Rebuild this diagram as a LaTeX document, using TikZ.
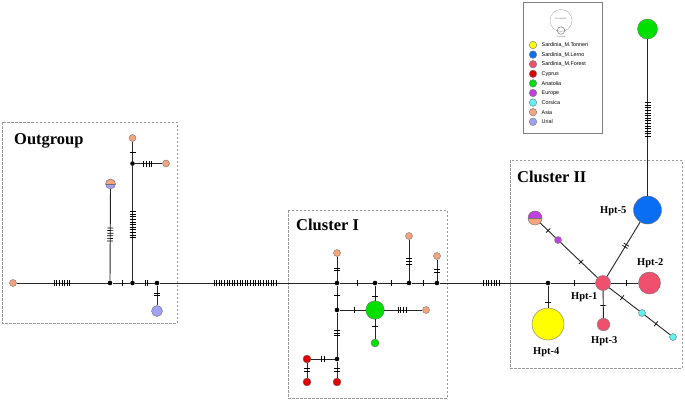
\documentclass[tikz,border=0pt]{standalone}
\usepackage{fontspec}
\setmainfont{Liberation Serif}
\newfontfamily\legfont{Liberation Sans}
\usetikzlibrary{calc}
\definecolor{ctonneri}{HTML}{FFFF00}
\definecolor{clerno}{HTML}{0A6EF5}
\definecolor{cforest}{HTML}{F0506E}
\definecolor{ccyprus}{HTML}{E00000}
\definecolor{canatolia}{HTML}{00E000}
\definecolor{ceurope}{HTML}{C040E0}
\definecolor{ccorsica}{HTML}{60F0F0}
\definecolor{casia}{HTML}{F5A47C}
\definecolor{curial}{HTML}{A0A0F5}
\tikzset{
 hap/.style={circle, draw=black!55, line width=0.4pt, inner sep=0pt, minimum size=#1},
 halfhap/.style 2 args={hap=#1, fill=#2},
 jn/.style={circle, fill=black, inner sep=0pt, minimum size=4.6pt},
 edge/.style={draw=black!85, line width=0.9pt},
 tickmark/.style={draw=black, line width=0.7pt},
 clbox/.style={draw=black!40, dash pattern=on 2.5pt off 1.5pt, line width=0.6pt},
 cllabel/.style={font=\bfseries\fontsize{16.5}{18}\selectfont, anchor=base west, inner sep=0pt},
 hptlabel/.style={font=\bfseries\fontsize{10.5}{12}\selectfont, anchor=base west, inner sep=0pt},
 legtext/.style={font=\legfont\fontsize{5.4}{6}\selectfont, anchor=west, inner sep=0pt},
 tinytext/.style={font=\legfont\fontsize{2.2}{2.5}\selectfont, inner sep=0pt, text=black!60},
}
\newcommand\tks[4]{%
 \foreach \ti in {1,...,#4}{%
  \coordinate (tkc) at ($(#1)!#3!(#2)$);
  \coordinate (tkp) at ($(tkc)!{(\ti-(#4+1)/2)*2.6pt}!(#2)$);
  \draw[tickmark] ($(tkp)!3pt!90:(#2)$) -- ($(tkp)!3pt!-90:(#2)$);
 }}
\begin{document}
\begin{tikzpicture}[x=1pt,y=-1pt]
\useasboundingbox (0,0) rectangle (685,400);
\fill[white] (0,0) rectangle (685,400);
% boxes
\draw[clbox] (2,122) rectangle (177,323);
\draw[clbox] (288,210) rectangle (447,398);
\draw[clbox] (510,160) rectangle (682,368);
\node[cllabel] (lout) at (14,144) {Outgroup};
\node[cllabel] (lc1) at (296,230) {Cluster I};
\node[cllabel] (lc2) at (517,182) {Cluster II};
% Outgroup
\node[hap=7pt, fill=casia] (o1) at (13,283) {};
\node[jn] (j1) at (110,283) {};
\node[hap=10pt, fill=curial, path picture={\fill[casia] (path picture bounding box.west) rectangle (path picture bounding box.north east); \draw[black!55,line width=0.4pt] (path picture bounding box.west) -- (path picture bounding box.east);}] (o2) at (110.5,184) {};
\node[jn] (j2) at (132.5,283) {};
\node[jn] (j3) at (132.5,163.5) {};
\node[hap=7pt, fill=casia] (o3) at (132.5,138) {};
\node[hap=7pt, fill=casia] (o4) at (166,163.5) {};
\node[jn] (j4) at (157,283) {};
\node[hap=11pt, fill=curial] (o5) at (157,311) {};
% Cluster I
\node[jn] (A) at (337,283) {};
\node[hap=7pt, fill=casia] (c1) at (337,253) {};
\node[jn] (B) at (375,283) {};
\node[hap=18.5pt, fill=canatolia] (g1) at (375,310) {};
\node[jn] (C) at (409,283) {};
\node[hap=7pt, fill=casia] (c2) at (409,236) {};
\node[jn] (D) at (437,283) {};
\node[hap=7pt, fill=casia] (c3) at (437,256) {};
\node[jn] (E) at (337,310) {};
\node[hap=7pt, fill=casia] (c4) at (426,310) {};
\node[hap=8pt, fill=canatolia] (g2) at (375,343) {};
\node[jn] (F) at (337,359) {};
\node[hap=8pt, fill=ccyprus] (r1) at (307,359) {};
\node[hap=8pt, fill=ccyprus] (r2) at (307,382) {};
\node[hap=8pt, fill=ccyprus] (r3) at (337,382) {};
% Cluster II
\node[jn] (G) at (548,283) {};
\node[hap=32pt, fill=ctonneri] (h4) at (548,324) {};
\node[hap=15pt, fill=cforest] (h1) at (603,283) {};
\node[hap=22pt, fill=cforest] (h2) at (649.5,283) {};
\node[hap=12.5pt, fill=cforest] (h3) at (603.5,324.5) {};
\node[hap=28pt, fill=clerno] (h5) at (647.5,210) {};
\node[hap=7pt, fill=ceurope] (e1) at (558,240) {};
\node[hap=14pt, fill=casia, path picture={\fill[ceurope] (path picture bounding box.west) rectangle (path picture bounding box.north east); \draw[black!55,line width=0.4pt] (path picture bounding box.west) -- (path picture bounding box.east);}] (e2) at (535,218) {};
\node[hap=7pt, fill=ccorsica] (k1) at (642,313) {};
\node[hap=7pt, fill=ccorsica] (k2) at (673,337) {};
\node[hap=20pt, fill=canatolia] (an) at (647.5,29) {};
% labels
\node[hptlabel] (l5) at (600,213) {Hpt-5};
\node[hptlabel] (l2) at (637,265) {Hpt-2};
\node[hptlabel] (l1) at (571,299) {Hpt-1};
\node[hptlabel] (l3) at (591,343) {Hpt-3};
\node[hptlabel] (l4) at (533,354) {Hpt-4};
% edges
\draw[edge] (o1) -- (j1); \tks{o1}{j1}{0.505}{7}
\draw[edge] (j1) -- (o2); \tks{j1}{o2}{0.49}{6}
\draw[edge] (j1) -- (j2); \tks{j1}{j2}{0.55}{1}
\draw[edge] (j2) -- (j3); \tks{j2}{j3}{0.49}{11}
\draw[edge] (j3) -- (o3); \tks{j3}{o3}{0.44}{1}
\draw[edge] (j3) -- (o4); \tks{j3}{o4}{0.45}{4}
\draw[edge] (j2) -- (j4); \tks{j2}{j4}{0.56}{2}
\draw[edge] (j4) -- (o5); \tks{j4}{o5}{0.4}{2}
\draw[edge] (j4) -- (A); \tks{j4}{A}{0.49}{25}
\draw[edge] (A) -- (c1); \tks{A}{c1}{0.45}{2}
\draw[edge] (A) -- (B); \tks{A}{B}{0.53}{1}
\draw[edge] (B) -- (g1); \tks{B}{g1}{0.5}{1}
\draw[edge] (B) -- (C); \tks{B}{C}{0.47}{1}
\draw[edge] (C) -- (c2); \tks{C}{c2}{0.46}{3}
\draw[edge] (C) -- (D); \tks{C}{D}{0.5}{1}
\draw[edge] (D) -- (c3); \tks{D}{c3}{0.46}{2}
\draw[edge] (A) -- (E); \tks{A}{E}{0.45}{1}
\draw[edge] (E) -- (g1); \tks{E}{g1}{0.45}{1}
\draw[edge] (g1) -- (c4); \tks{g1}{c4}{0.53}{4}
\draw[edge] (g1) -- (g2); \tks{g1}{g2}{0.5}{1}
\draw[edge] (E) -- (F); \tks{E}{F}{0.47}{3}
\draw[edge] (F) -- (r1); \tks{F}{r1}{0.47}{2}
\draw[edge] (r1) -- (r2); \tks{r1}{r2}{0.48}{2}
\draw[edge] (F) -- (r3); \tks{F}{r3}{0.48}{2}
\draw[edge] (D) -- (G); \tks{D}{G}{0.49}{7}
\draw[edge] (G) -- (h4); \tks{G}{h4}{0.46}{1}
\draw[edge] (G) -- (h1); \tks{G}{h1}{0.47}{1}
\draw[edge] (h1) -- (h2); \tks{h1}{h2}{0.5}{1}
\draw[edge] (h1) -- (h3); \tks{h1}{h3}{0.54}{1}
\draw[edge] (h1) -- (h5); \tks{h1}{h5}{0.51}{2}
\draw[edge] (h1) -- (e1); \tks{h1}{e1}{0.49}{1}
\draw[edge] (e1) -- (e2); \tks{e1}{e2}{0.43}{1}
\draw[edge] (h1) -- (k1); \tks{h1}{k1}{0.49}{1}
\draw[edge] (k1) -- (k2); \tks{k1}{k2}{0.45}{1}
\draw[edge] (h5) -- (an); \tks{h5}{an}{0.5}{14}
% legend
\draw[black!50, line width=0.6pt] (523,2) rectangle (602,133);
\node[hap=22pt, draw=black!40, line width=0.3pt] (s10) at (561,20.5) {};
\node[hap=7.5pt, draw=black!60, line width=0.4pt] (s1) at (561,30.5) {};
\node[tinytext] (t10) at (561,19) {10 samples};
\node[tinytext] (t1) at (561,36.5) {1 sample};
\foreach \c/\t [count=\k from 0] in {ctonneri/Sardinia\_M.Tonneri, clerno/Sardinia\_M.Lerno, cforest/Sardinia\_M.Forest, ccyprus/Cyprus, canatolia/Anatolia, ceurope/Europe, ccorsica/Corsica, casia/Asia, curial/Urial}{
  \node[hap=7.5pt, fill=\c] (lg\k) at (533,45+9.6*\k) {};
  \node[legtext] (lt\k) at (541.5,45+9.6*\k) {\t};
}
\end{tikzpicture}
\end{document}
